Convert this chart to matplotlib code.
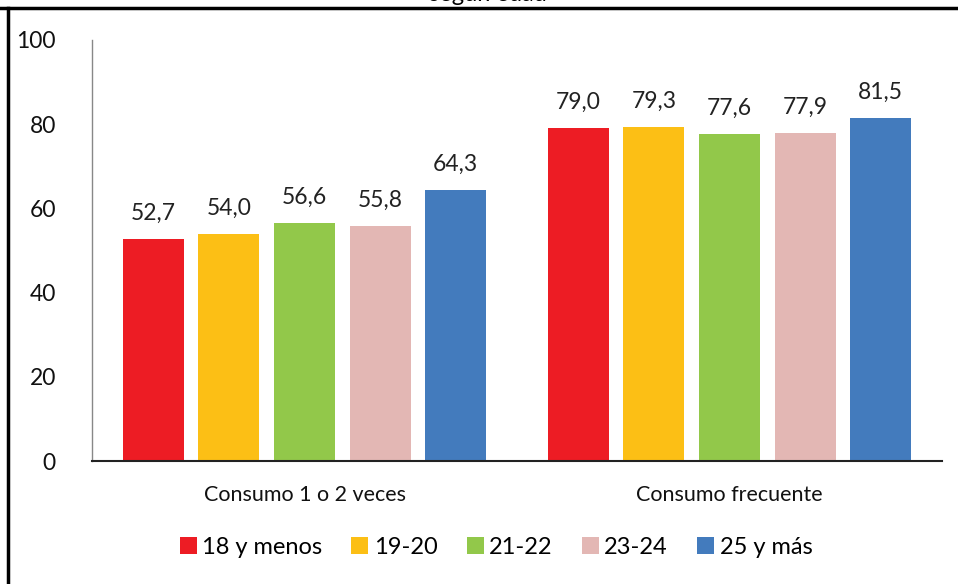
import matplotlib.pyplot as plt
import numpy as np
from matplotlib.lines import Line2D

plt.rcParams['font.family'] = ['Lato', 'DejaVu Sans']

categories = ['Consumo 1 o 2 veces', 'Consumo frecuente']
age_groups = ['18 y menos', '19-20', '21-22', '23-24', '25 y más']
values = [
    [52.7, 79.0],
    [54.0, 79.3],
    [56.6, 77.6],
    [55.8, 77.9],
    [64.3, 81.5],
]
colors = ['#ED1C24', '#FCBF15', '#92C84A', '#E3B7B4', '#437BBD']

W, H = 958, 584
fig = plt.figure(figsize=(W / 100, H / 100), dpi=100)
ax = fig.add_axes([92 / W, 1 - 461 / H, (942 - 92) / W, (461 - 40) / H])

x = np.arange(len(categories))
step = 0.178
width = 0.144
for i, (label, vals, col) in enumerate(zip(age_groups, values, colors)):
    pos = x + (i - 2) * step
    ax.bar(pos, vals, width, color=col, label=label, edgecolor='none')
    for p, v in zip(pos, vals):
        ax.text(p, v + 3.6, f"{v:.1f}".replace('.', ','), ha='center', va='bottom',
                fontsize=16.5, color='#222222')

ax.set_xlim(-0.5, 1.5)
ax.set_ylim(0, 100)
ax.set_yticks([0, 20, 40, 60, 80, 100])
ax.tick_params(axis='y', length=0, labelsize=16.5, pad=26, colors='#111111')
ax.tick_params(axis='x', length=0, labelsize=15.5, pad=17, colors='#111111')
ax.set_xticks(x)
ax.set_xticklabels(categories)
for s in ['top', 'right']:
    ax.spines[s].set_visible(False)
ax.spines['left'].set_color('#888888')
ax.spines['left'].set_linewidth(1.0)
ax.spines['bottom'].set_color('#222222')
ax.spines['bottom'].set_linewidth(1.5)

ax.legend(loc='center', bbox_to_anchor=(496 / W, (H - 547) / H), bbox_transform=fig.transFigure,
          ncol=5, frameon=False, fontsize=17, handlelength=0.72, handleheight=0.72,
          handletextpad=0.22, columnspacing=1.25)

# title, cut off at the top as in the source image
fig.text(488 / W, 1 - 1 / H, 'según edad', ha='center', va='baseline', fontsize=17)

# outer frame lines
fig.add_artist(Line2D([0, 1], [1 - 8 / H, 1 - 8 / H], transform=fig.transFigure,
                      color='black', linewidth=2.5))
fig.add_artist(Line2D([8 / W, 8 / W], [0, 1 - 8 / H], transform=fig.transFigure,
                      color='black', linewidth=2.5))

fig.savefig('out.png', dpi=100)
